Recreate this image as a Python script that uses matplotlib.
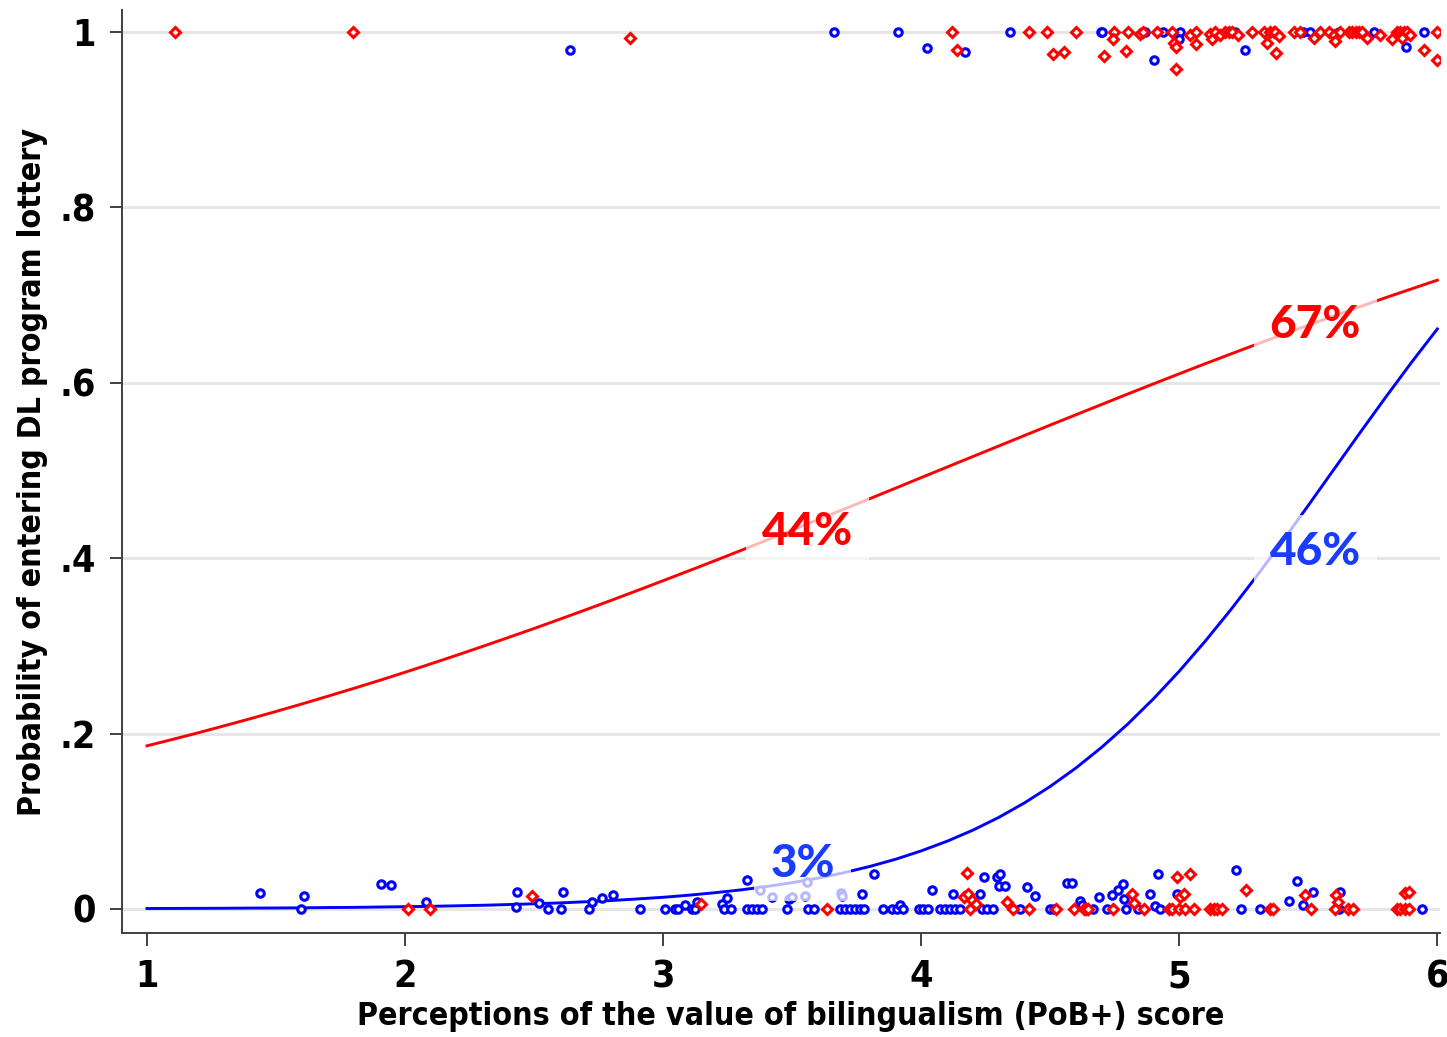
import matplotlib
matplotlib.use("Agg")
import matplotlib.pyplot as plt

# predicted probability along the PoB+ score
score_grid = [1.0, 1.1, 1.2, 1.3, 1.4, 1.5, 1.6, 1.7, 1.8, 1.9,
              2.0, 2.1, 2.2, 2.3, 2.4, 2.5, 2.6, 2.7, 2.8, 2.9,
              3.0, 3.1, 3.2, 3.3, 3.4, 3.5, 3.6, 3.7, 3.8, 3.9,
              4.0, 4.1, 4.2, 4.3, 4.4, 4.5, 4.6, 4.7, 4.8, 4.9,
              5.0, 5.1, 5.2, 5.3, 5.4, 5.5, 5.6, 5.7, 5.8, 5.9, 6.0]
prob_red = [0.1860, 0.1934, 0.2010, 0.2089, 0.2169, 0.2252, 0.2337, 0.2425, 0.2514, 0.2605,
            0.2699, 0.2795, 0.2893, 0.2993, 0.3095, 0.3198, 0.3304, 0.3411, 0.3520, 0.3631,
            0.3743, 0.3856, 0.3970, 0.4086, 0.4203, 0.4320, 0.4439, 0.4558, 0.4677, 0.4797,
            0.4918, 0.5038, 0.5158, 0.5278, 0.5398, 0.5517, 0.5635, 0.5753, 0.5871, 0.5987,
            0.6102, 0.6216, 0.6328, 0.6439, 0.6548, 0.6656, 0.6763, 0.6867, 0.6970, 0.7070, 0.7169]
prob_blue = [0.0005, 0.0006, 0.0007, 0.0008, 0.0010, 0.0011, 0.0013, 0.0016, 0.0018, 0.0022,
             0.0026, 0.0030, 0.0036, 0.0042, 0.0050, 0.0059, 0.0069, 0.0082, 0.0096, 0.0114,
             0.0133, 0.0157, 0.0185, 0.0217, 0.0255, 0.0300, 0.0352, 0.0413, 0.0484, 0.0566,
             0.0662, 0.0772, 0.0898, 0.1043, 0.1209, 0.1397, 0.1608, 0.1845, 0.2107, 0.2396,
             0.2711, 0.3051, 0.3413, 0.3795, 0.4192, 0.4601, 0.5015, 0.5428, 0.5835, 0.6232, 0.6613]

# observed outcomes (jittered around 0 / 1)
blue_x = [2.64, 3.664, 3.912, 4.022, 4.168, 4.343, 4.697, 4.70, 4.868, 4.904, 4.938, 5.004, 5.0,
          5.217, 5.253, 5.481, 5.507, 5.618, 5.753, 5.880, 5.947,
          1.439, 1.607, 1.598, 1.908, 1.947, 2.083, 2.434, 2.428, 2.518, 2.554, 2.606, 2.612,
          2.714, 2.723, 2.762, 2.807, 2.911, 3.008, 3.047, 3.059, 3.085, 3.111, 3.124, 3.13,
          3.227, 3.246, 3.234, 3.262, 3.324, 3.324, 3.343, 3.363, 3.382, 3.376, 3.421, 3.486,
          3.499, 3.55, 3.557, 3.688, 3.692, 3.481, 3.563, 3.583, 3.686, 3.705, 3.724, 3.743,
          3.762, 3.777, 3.769, 3.817, 3.851, 3.886, 3.905, 3.916, 3.931, 3.99, 4.008, 4.028,
          4.041, 4.071, 4.091, 4.111, 4.131, 4.151, 4.125, 4.242, 4.293, 4.306, 4.303, 4.325,
          4.226, 4.235, 4.254, 4.28, 4.384, 4.41, 4.442, 4.5, 4.513, 4.565, 4.584, 4.616,
          4.623, 4.665, 4.69, 4.739, 4.761, 4.782, 4.719, 4.784, 4.795, 4.842, 4.885, 4.916,
          4.907, 4.926, 4.99, 5.14, 5.221, 5.239, 5.311, 5.424, 5.456, 5.478, 5.518, 5.624,
          5.618, 5.94]
blue_y = [0.979, 1, 1, 0.982, 0.977, 1, 1, 1, 1, 0.968, 1, 1, 0.992,
          1, 0.979, 1, 1, 1, 1, 0.983, 1,
          0.018, 0.015, 0, 0.0285, 0.027, 0.008, 0.0197, 0.002, 0.007, 0, 0, 0.0197,
          0, 0.008, 0.012, 0.0155, 0, 0, 0, 0, 0.005, 0, 0, 0.008,
          0.006, 0.012, 0, 0, 0.033, 0, 0, 0, 0, 0.022, 0.014, 0.011,
          0.014, 0.015, 0.031, 0.018, 0.015, 0, 0, 0, 0, 0, 0, 0,
          0, 0, 0.017, 0.040, 0, 0, 0, 0.005, 0, 0, 0, 0,
          0.022, 0, 0, 0, 0, 0, 0.017, 0.036, 0.036, 0.040, 0.026, 0.026,
          0.0165, 0, 0, 0, 0, 0.025, 0.015, 0, 0, 0.030, 0.030, 0.0095,
          0.005, 0, 0.0135, 0.0155, 0.022, 0.029, 0, 0.011, 0, 0, 0.017, 0.040,
          0.003, 0, 0.017, 0, 0.044, 0, 0, 0.009, 0.032, 0.005, 0.019, 0.019,
          0, 0]

red_x = [1.109, 1.80, 2.872, 4.12, 4.14, 4.416, 4.487, 4.510, 4.552, 4.601, 4.748, 4.745,
         4.709, 4.80, 4.792, 4.849, 4.861, 4.913, 4.971, 4.978, 4.988, 4.987, 5.043, 5.066,
         5.065, 5.118, 5.127, 5.140, 5.159, 5.178, 5.191, 5.204, 5.226, 5.282, 5.327, 5.34,
         5.353, 5.366, 5.372, 5.388, 5.376, 5.443, 5.469, 5.523, 5.547, 5.579, 5.598, 5.602,
         5.624, 5.657, 5.670, 5.683, 5.696, 5.709, 5.727, 5.779, 5.824, 5.843, 5.856, 5.869,
         5.882, 5.863, 5.895, 5.947, 6.0, 6.0,
         2.01, 2.098, 2.492, 3.146, 3.634, 4.177, 4.164, 4.183, 4.196, 4.213, 4.19, 4.332,
         4.357, 4.416, 4.523, 4.593, 4.629, 4.64, 4.648, 4.742, 4.816, 4.823, 4.864, 4.959,
         4.972, 4.99, 5.043, 5.004, 5.019, 4.998, 5.023, 5.056, 5.12, 5.133, 5.146, 5.165,
         5.26, 5.353, 5.363, 5.486, 5.512, 5.609, 5.614, 5.605, 5.655, 5.674, 5.843, 5.856,
         5.876, 5.892, 5.876, 5.892]
red_y = [1, 1, 0.993, 1, 0.979, 1, 1, 0.975, 0.977, 1, 1, 0.992,
         0.972, 1, 0.978, 0.998, 1, 1, 1, 0.987, 0.983, 0.958, 0.996, 1,
         0.986, 0.998, 0.992, 1, 0.996, 1, 1, 1, 0.996, 1, 1, 0.987,
         1, 1, 1, 0.995, 0.976, 1, 1, 0.993, 1, 1, 0.996, 0.990,
         1, 1, 1, 1, 1, 1, 0.993, 0.996, 0.992, 1, 1, 1,
         1, 0.993, 0.996, 0.979, 1, 0.968,
         0, 0, 0.015, 0.006, 0, 0.041, 0.014, 0.0165, 0.010, 0.006, 0, 0.008,
         0, 0, 0, 0, 0, 0, 0, 0, 0.0165, 0.007, 0, 0,
         0, 0.036, 0.040, 0.014, 0.017, 0, 0, 0, 0, 0, 0, 0,
         0.022, 0, 0, 0.016, 0, 0.016, 0.008, 0, 0, 0, 0, 0,
         0, 0, 0.018, 0.0197]

# labels: text, x, y
red_labels = [("44%", 3.56, 0.430), ("67%", 5.527, 0.666)]
blue_labels = [("3%", 3.54, 0.051), ("46%", 5.527, 0.407)]

plt.rcParams["font.family"] = "DejaVu Sans"

fig = plt.figure(figsize=(14.47, 10.37), dpi=100)
ax = fig.add_axes([0.0843, 0.1003, 0.9108, 0.8901])

ax.plot(score_grid, prob_red, color="#ff0000", linewidth=2.1, zorder=3)
ax.plot(score_grid, prob_blue, color="#0000ff", linewidth=2.1, zorder=3)

ax.plot(blue_x, blue_y, linestyle="none", marker="o", markersize=5.4,
        markerfacecolor="white", markeredgecolor="#0000ff", markeredgewidth=2.2, zorder=4)
ax.plot(red_x, red_y, linestyle="none", marker="D", markersize=5.0,
        markerfacecolor="white", markeredgecolor="#ff0000", markeredgewidth=2.2, zorder=4)

box = dict(boxstyle="square,pad=0.35", facecolor="white", edgecolor="none", alpha=0.72)
for txt, x, y in red_labels:
    ax.text(x, y, txt, color="#ff0000", fontsize=33, fontweight=900, family="Lato",
            ha="center", va="center", bbox=box, zorder=5)
for txt, x, y in blue_labels:
    ax.text(x, y, txt, color="#1a3cff", fontsize=33, fontweight=900, family="Lato",
            ha="center", va="center", bbox=box, zorder=5)

ax.set_xlim(0.903, 6.01)
ax.set_ylim(-0.0274, 1.025)
ax.set_xticks([1, 2, 3, 4, 5, 6])
ax.set_yticks([0, 0.2, 0.4, 0.6, 0.8, 1.0])
ax.set_yticklabels(["0", ".2", ".4", ".6", ".8", "1"])
ax.yaxis.grid(True, color="#e6e6e6", linewidth=2.2)
ax.set_axisbelow(True)

for side in ["top", "right"]:
    ax.spines[side].set_visible(False)
for side in ["left", "bottom"]:
    ax.spines[side].set_color("#404040")
    ax.spines[side].set_linewidth(1.4)
ax.tick_params(axis="both", length=9, width=1.4, color="#404040", pad=10)

for lab in ax.get_xticklabels() + ax.get_yticklabels():
    lab.set_fontsize(27)
    lab.set_fontweight("bold")
    lab.set_fontstretch("condensed")

ax.set_xlabel("Perceptions of the value of bilingualism (PoB+) score",
              fontsize=23, fontweight="bold", fontstretch="condensed")
ax.xaxis.set_label_coords(0.5076, -0.074)
ax.set_ylabel("Probability of entering DL program lottery",
              fontsize=23, fontweight="bold", fontstretch="condensed", labelpad=8)

fig.savefig("out.png", dpi=100)
